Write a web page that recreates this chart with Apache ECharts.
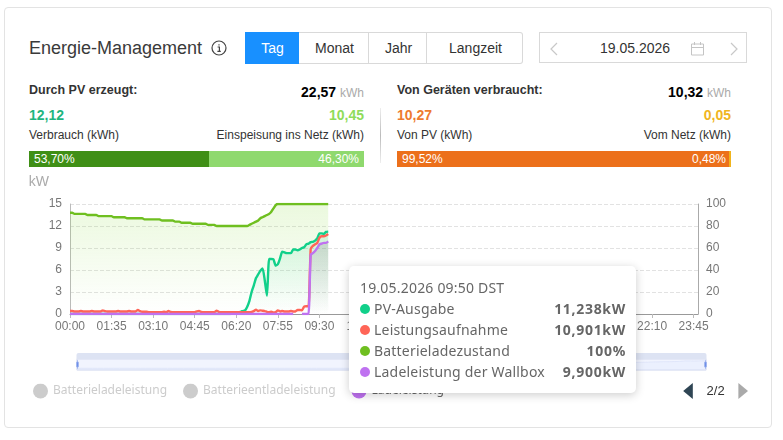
<!DOCTYPE html>
<html><head><meta charset="utf-8">
<script src="https://cdn.jsdelivr.net/npm/echarts@6/dist/echarts.min.js"></script>
<style>
html,body{margin:0;padding:0;background:#fff;width:783px;height:440px;overflow:hidden;font-family:"Liberation Sans",Arial,sans-serif;color:#333}
.a{position:absolute;white-space:nowrap;line-height:1}
#card{position:absolute;left:4px;top:7px;width:766px;height:419px;border:1px solid #e3e3e3;border-radius:4px;box-sizing:content-box}
#chart{position:absolute;left:0;top:170px;width:783px;height:250px}
.btn{position:absolute;top:32px;height:32px;box-sizing:border-box;border:1px solid #d9d9d9;border-left:0;padding-left:2px;font-size:14px;line-height:30px;text-align:center;color:#333;background:#fff}
.r{text-align:right}
.bar{position:absolute;top:151px;height:16px;color:#fff;font-size:12px;line-height:16px}
</style></head><body>
<div id="card"></div>
<div class="a" style="left:29px;top:39px;font-size:18px;color:#3a3a3a">Energie-Management</div>
<svg class="a" style="left:211px;top:40px" width="16" height="16" viewBox="0 0 16 16"><circle cx="8" cy="8" r="7" fill="none" stroke="#444" stroke-width="1.2"/><path d="M6.6 7h1.8v4.2M6.4 11.4h3.4M8 4.2v1.4" fill="none" stroke="#444" stroke-width="1.2"/></svg>
<div class="btn" style="left:245px;width:54px;background:#1890ff;color:#fff;border-color:#1890ff">Tag</div>
<div class="btn" style="left:299px;width:70px">Monat</div>
<div class="btn" style="left:369px;width:58px">Jahr</div>
<div class="btn" style="left:427px;width:96px;border-radius:0 3px 3px 0">Langzeit</div>
<div class="a" style="left:539px;top:32px;width:208px;height:31px;border:1px solid #d9d9d9;box-sizing:border-box"></div>
<svg class="a" style="left:548px;top:41px" width="12" height="16"><path d="M9 2L3 8l6 6" fill="none" stroke="#c8c8c8" stroke-width="1.2"/></svg>
<div class="a" style="left:600px;top:41px;font-size:14px;color:#333">19.05.2026</div>
<svg class="a" style="left:690px;top:41px" width="15" height="15"><path d="M1.5 3h12v11h-12zM1.5 6.5h12M4.5 1v3M10.5 1v3" fill="none" stroke="#c4c4c4"/></svg>
<svg class="a" style="left:728px;top:41px" width="12" height="16"><path d="M3 2l6 6-6 6" fill="none" stroke="#c8c8c8" stroke-width="1.2"/></svg>

<div class="a" style="left:29px;top:84px;font-size:12.5px;font-weight:bold">Durch PV erzeugt:</div>
<div class="a r" id="pvTotal" style="right:419px;top:85px;font-size:14px;font-weight:bold;color:#000"></div>
<div class="a" id="pvUse" style="left:29px;top:108px;font-size:14px;font-weight:bold;color:#1fb57f"></div>
<div class="a r" id="pvFeed" style="right:419px;top:108px;font-size:14px;font-weight:bold;color:#8fdc5a"></div>
<div class="a" style="left:29px;top:129px;font-size:12px">Verbrauch (kWh)</div>
<div class="a r" style="right:419px;top:129px;font-size:12px">Einspeisung ins Netz (kWh)</div>
<div class="bar" id="bar1" style="left:29px;width:180px;background:#3f8f16;padding-left:5px;box-sizing:border-box"></div>
<div class="bar" id="bar2" style="left:209px;width:155px;background:#8fd96e;padding-right:5px;box-sizing:border-box;text-align:right"></div>
<div class="a" style="left:380px;top:108px;width:1px;height:55px;background:linear-gradient(#eee,#bbb,#eee)"></div>

<div class="a" style="left:397px;top:84px;font-size:12.5px;font-weight:bold">Von Geräten verbraucht:</div>
<div class="a r" id="devTotal" style="right:52px;top:85px;font-size:14px;font-weight:bold;color:#000"></div>
<div class="a" id="devPv" style="left:397px;top:108px;font-size:14px;font-weight:bold;color:#ee7b30"></div>
<div class="a r" id="devGrid" style="right:52px;top:108px;font-size:14px;font-weight:bold;color:#f0b521"></div>
<div class="a" style="left:397px;top:129px;font-size:12px">Von PV (kWh)</div>
<div class="a r" style="right:52px;top:129px;font-size:12px">Vom Netz (kWh)</div>
<div class="bar" id="bar3" style="left:397px;width:332px;background:#ec701b;padding-left:5px;box-sizing:border-box"></div>
<div class="bar" id="bar4" style="left:629px;width:102px;padding-right:5px;box-sizing:border-box;text-align:right;background:linear-gradient(90deg,#ec701b 98.2%,#f0b41c 98.2%)"></div>
<div id="chart"></div>
<script>
var stats = {pvTotal:'22,57', pvUse:'12,12', pvFeed:'10,45', devTotal:'10,32', devPv:'10,27', devGrid:'0,05'};
var shares = ['53,70%','46,30%','99,52%','0,48%'];
var times = [];
['00','01','02','03','04','05','06','07','08','09','10','11','12','13','14','15','16','17','18','19','20','21','22','23'].forEach(function(h){
  ['00','05','10','15','20','25','30','35','40','45','50','55'].forEach(function(m){times.push(h+':'+m);});
});
var pvOutput = [0,0,0,0,0,0,0,0,0,0,0,0,0,0,0,0,0,0,0,0,0,0,0,0,0,0,0,0,0,0,0,0,0,0,0,0,0,0,0,0,0,0,0,0,0,0,0,0,0,0,0,0,0,0,0,0,0,0,0,0,0,0,0,0,0,0,0,0,0,0,0,0,0,0,
0.1,0.15,0.2,0.25,0.3,0.4,0.5,1.0,1.8,3.0,3.9,4.9,5.4,5.9,6.2,4.6,2.5,7.5,7.5,7.45,6.6,6.8,7.6,8.5,8.4,8.3,8.3,8.3,8.8,8.8,8.7,8.8,9.0,9.1,9.5,9.6,9.8,9.85,10.0,10.3,11.0,11.0,10.9,11.2,11.238];
var loadPower = [0.4,0.4,0.35,0.35,0.35,0.4,0.35,0.35,0.35,0.35,0.4,0.35,0.35,0.35,0.35,0.5,0.4,0.35,0.35,0.35,0.35,0.35,0.4,0.35,0.35,0.35,0.35,0.4,0.35,0.35,0.35,0.55,0.4,0.3,0.3,0.3,0.25,0.25,0.25,0.25,0.25,0.25,0.25,0.3,0.25,0.4,0.3,0.25,0.25,0.25,0.25,0.25,0.25,0.25,0.25,0.25,0.25,0.25,0.35,0.4,0.3,0.25,0.25,0.25,0.25,0.25,0.25,0.45,0.3,0.25,0.25,0.25,0.25,0.25,0.25,0.25,0.25,0.25,0.25,0.25,0.25,0.25,0.25,0.3,0.4,0.6,0.4,0.5,0.45,0.4,0.3,0.25,0.3,0.2,0.25,0.5,0.35,0.4,0.35,0.35,0.35,0.4,0.35,0.35,0.55,0.55,0.5,1.0,1.05,1.05,8.9,9.3,9.5,9.7,10.4,10.6,10.6,10.7,10.901];
var batterySoc = [92,92,91,91,91,91,91,91,90,90,90,90,90,89,89,89,89,89,89,89,88,88,88,88,88,88,87,87,87,87,87,87,87,87,86,86,86,86,86,86,86,86,85,85,85,85,85,85,84,84,84,83,83,83,83,83,82,82,82,82,82,82,82,81,81,81,81,80,80,80,80,80,80,80,80,80,80,80,80,80,80,80,81,82,83,84,85,87,88,89,90,91,93,96,99,100,100,100,100,100,100,100,100,100,100,100,100,100,100,100,100,100,100,100,100,100,100,100,100];
var wallbox = [0,0,0,0,0,0,0,0,0,0,0,0,0,0,0,0,0,0,0,0,0,0,0,0,0,0,0,0,0,0,0,0,0,0,0,0,0,0,0,0,0,0,0,0,0,0,0,0,0,0,0,0,0,0,0,0,0,0,0,0,0,0,0,0,0,0,0,0,0,0,0,0,0,0,0,0,0,0,0,0,0,0,0,0,0,0,0,0,0,0,0,0,0,0,0,0,0,0,0,0,0,0,0,null,null,null,0,0,0,0,8.1,8.3,8.6,9.0,9.5,9.6,9.7,9.7,9.9];
var tipTitle = '19.05.2026 09:50 DST';
var tipNames = ['PV-Ausgabe','Leistungsaufnahme','Batterieladezustand','Ladeleistung der Wallbox'];
var tipValues = ['11,238kW','10,901kW','100%','9,900kW'];
var tipColors = ['#11d08a','#ff6557','#6fbf20','#bf72f0'];
var legendNames = ['PV-Ausgabe','Leistungsaufnahme','Batterieladezustand','Batterieladeleistung','Batterieentladeleistung','Ladeleistung'];

for (var k in stats) document.getElementById(k).innerHTML = stats[k] + (k.indexOf('Total')>0 ? ' <span style="font-weight:normal;font-size:12px;color:#aaa">kWh</span>' : '');
['bar1','bar2','bar3','bar4'].forEach(function(id,i){document.getElementById(id).textContent = shares[i];});

function grad(c0,c1){return new echarts.graphic.LinearGradient(0,0,0,1,[{offset:0,color:c0},{offset:1,color:c1}]);}
var lineBase = {type:'line',smooth:0.2,showSymbol:false,symbol:'none',emphasis:{disabled:true}};
function line(name,data,color,yi,area){return Object.assign({},lineBase,{name:name,data:data,yAxisIndex:yi,itemStyle:{color:color},lineStyle:{width:2.4,color:color},areaStyle:area?{color:area}:undefined});}
function everyNinetyFive(i){return i%19===0;}

var chart = echarts.init(document.getElementById('chart'));
chart.setOption({
  animation:false,
  textStyle:{fontFamily:'"Liberation Sans",Arial,sans-serif'},
  grid:{left:70,right:85,top:34,bottom:106},
  tooltip:{trigger:'axis',alwaysShowContent:true,showContent:true,transitionDuration:0,
    axisPointer:{type:'none'},padding:0,borderWidth:0,backgroundColor:'#fff',
    extraCssText:'box-shadow:0 2px 10px rgba(0,0,0,.2);border-radius:5px;',
    position:function(){return [349,96];},
    formatter:function(){
      var h='<div style="width:287px;height:127px;box-sizing:border-box;padding:11px 10px 0 11px;font-family:\'Noto Sans\',sans-serif;font-size:14px;letter-spacing:.2px;line-height:21px;color:#666"><div>'+tipTitle+'</div>';
      tipNames.forEach(function(n,i){h+='<div style="display:flex;justify-content:space-between"><span><span style="display:inline-block;width:10px;height:10px;border-radius:50%;background:'+tipColors[i]+';margin-right:4px"></span>'+n+'</span><b style="color:#666;letter-spacing:.7px">'+tipValues[i]+'</b></div>';});
      return h+'</div>';
    }},
  legend:{type:'scroll',left:28,width:715,top:208,data:legendNames,icon:'circle',itemWidth:15,itemHeight:15,itemGap:16,
    scrollDataIndex:3,pageIconSize:[11,16],pageButtonItemGap:8,pageIconColor:'#2f4554',pageIconInactiveColor:'#aaa',pageTextStyle:{color:'#333',fontSize:13},
    selected:{'Batterieladeleistung':false,'Batterieentladeleistung':false},
    inactiveColor:'#ccc',textStyle:{fontFamily:'"Noto Sans",sans-serif',fontSize:12,color:'#666'}},
  dataZoom:[{type:'slider',xAxisIndex:0,start:0,end:100,left:74,right:79,top:183,height:12,
    brushSelect:true,showDetail:false,borderColor:'#d5dbf0',fillerColor:'rgba(200,212,250,0.25)',backgroundColor:'rgba(47,69,84,0)',
    handleSize:'70%',handleStyle:{color:'#5b83e8',borderColor:'#9fb4ee'},
    moveHandleSize:6,moveHandleStyle:{color:'#dde3f3',opacity:1},
    emphasis:{moveHandleStyle:{color:'#dde3f3'}},
    dataBackground:{lineStyle:{color:'#d5dcf5',width:.5},areaStyle:{color:'#e6ebfb'}},
    selectedDataBackground:{lineStyle:{color:'#d5dcf5',width:.5},areaStyle:{color:'#e6ebfb'}}}],
  xAxis:{type:'category',boundaryGap:false,data:times,
    axisLine:{lineStyle:{color:'#999'}},axisTick:{interval:everyNinetyFive,lineStyle:{color:'#bbb'},length:4},
    axisLabel:{interval:everyNinetyFive,color:'#777',fontSize:12,margin:7},splitLine:{show:false}},
  yAxis:[
    {type:'value',min:0,max:15,interval:3,name:'kW',nameLocation:'end',nameGap:15,
     nameTextStyle:{color:'#aaa',fontSize:14,align:'right',padding:[0,21,0,0]},
     axisLine:{show:true,lineStyle:{color:'#bbb'}},axisTick:{show:false},axisLabel:{color:'#777',fontSize:12,margin:8},
     splitLine:{lineStyle:{type:'dashed',color:'#e2e2e2'}}},
    {type:'value',min:0,max:100,interval:20,position:'right',
     axisLine:{show:true,lineStyle:{color:'#aaa'}},axisTick:{show:false},axisLabel:{color:'#777',fontSize:12,margin:8},
     splitLine:{show:false}}
  ],
  series:[
    line('PV-Ausgabe',pvOutput,tipColors[0],0,grad('rgba(17,208,138,0.22)','rgba(17,208,138,0)')),
    line('Leistungsaufnahme',loadPower,tipColors[1],0,null),
    line('Batterieladezustand',batterySoc,tipColors[2],1,grad('rgba(125,215,40,0.22)','rgba(125,215,40,0)')),
    line('Batterieladeleistung',[],'#7ac',0,null),
    line('Batterieentladeleistung',[],'#c97',0,null),
    line('Ladeleistung',wallbox,tipColors[3],0,grad('rgba(110,70,110,0.24)','rgba(110,70,110,0)'))
  ]
});
chart.dispatchAction({type:'showTip',seriesIndex:0,dataIndex:118});
</script>
</body></html>
